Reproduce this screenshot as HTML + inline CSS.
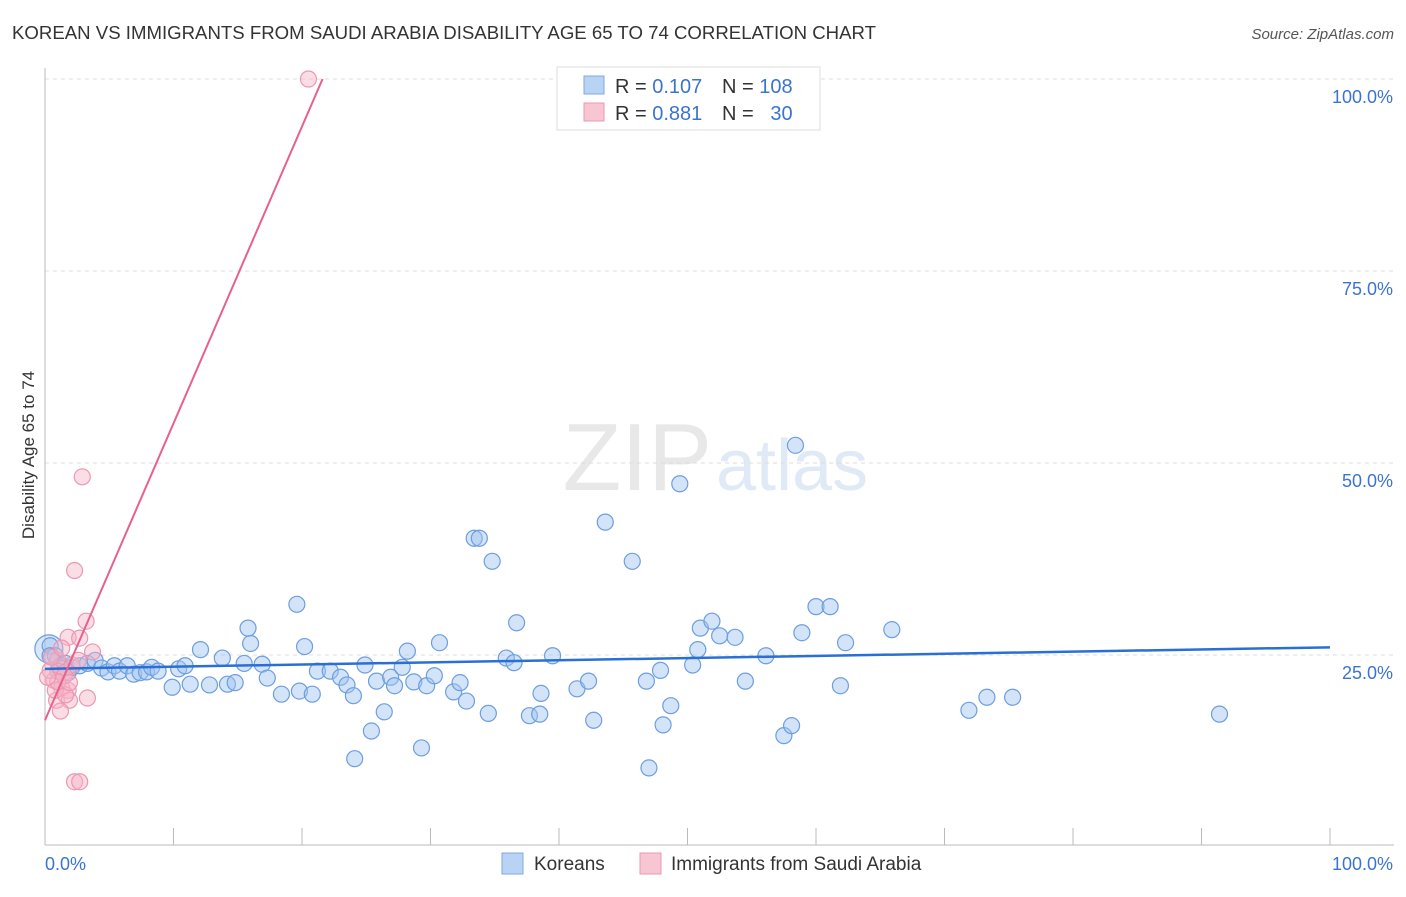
<!DOCTYPE html>
<html><head><meta charset="utf-8"><style>
body{margin:0;background:#fff;font-family:"Liberation Sans",sans-serif;}
svg text{font-family:"Liberation Sans",sans-serif;}
</style></head><body>
<svg id="chart" width="1406" height="892">
<text x="12" y="39" font-size="18.5" fill="#333" textLength="864" lengthAdjust="spacingAndGlyphs">KOREAN VS IMMIGRANTS FROM SAUDI ARABIA DISABILITY AGE 65 TO 74 CORRELATION CHART</text>
<text x="1394" y="39" font-size="15" fill="#555" font-style="italic" text-anchor="end">Source: ZipAtlas.com</text>
<text x="712" y="490" font-size="96" fill="#e8e8e8" text-anchor="end" font-family="Liberation Serif">ZIP</text>
<text x="716" y="490" font-size="72" fill="#e0eaf6">atlas</text>
<g id="grid"></g>
<g id="axes"></g>
<g id="pts"></g>
<g id="lines"></g>
<text transform="translate(34,455) rotate(-90)" font-size="17" fill="#333" text-anchor="middle">Disability Age 65 to 74</text>
<g>
<rect x="557" y="67" width="263" height="63" fill="#fff" stroke="#ddd"/>
<rect x="584" y="76" width="20" height="18" fill="#b9d3f5" stroke="#7fa8e0"/>
<rect x="584" y="103" width="20" height="18" fill="#f8c5d3" stroke="#ec97b0"/>
<text x="615" y="93" font-size="20" fill="#333">R = <tspan fill="#3b74d0">0.107</tspan></text>
<text x="722" y="93" font-size="20" fill="#333">N = <tspan fill="#3b74d0">108</tspan></text>
<text x="615" y="120" font-size="20" fill="#333">R = <tspan fill="#3b74d0">0.881</tspan></text>
<text x="722" y="120" font-size="20" fill="#333">N = <tspan fill="#3b74d0">&#160; 30</tspan></text>
</g>
<g>
<rect x="502" y="853" width="21" height="21" fill="#b9d3f5" stroke="#7fa8e0"/>
<text x="534" y="870" font-size="19" fill="#333">Koreans</text>
<rect x="640" y="853" width="21" height="21" fill="#f8c5d3" stroke="#ec97b0"/>
<text x="671" y="870" font-size="19" fill="#333">Immigrants from Saudi Arabia</text>
</g>
</svg>
<script>
const yTicks=[100,75,50,25];
const yTickLabels=["100.0%","75.0%","50.0%","25.0%"];
const koreanX=[16,15.8,19.6,20.2,12.1,13.8,15.5,16.9,9.9,11.3,12.8,14.2,14.8,17.3,18.4,19.8,20.8,21.2,22.2,23,23.5,24,24.9,25.8,26.4,25.4,24.1,26.9,27.2,27.8,28.2,28.7,29.3,29.7,30.3,30.7,31.8,32.3,32.8,33.4,33.8,34.5,34.8,35.9,36.5,36.7,37.7,38.5,38.6,39.5,41.4,42.3,42.7,43.6,45.7,46.8,47,47.9,48.1,48.7,49.4,50.4,50.8,51,51.9,52.5,53.7,54.5,56.1,57.5,58.1,58.4,58.9,60,61.1,61.9,62.3,65.9,71.9,73.3,75.3,91.4,0.4,0.8,1.2,1.6,2.1,2.7,3.3,3.9,4.4,4.9,5.4,5.8,6.4,6.9,7.4,7.9,8.3,8.8,10.4,10.9,0.4,1,1.8];
const koreanY=[26.5,28.5,31.6,26.1,25.7,24.6,23.9,23.8,20.8,21.2,21.1,21.2,21.4,22,19.9,20.3,19.9,22.9,22.9,22.1,21.1,19.7,23.7,21.6,17.6,15.1,11.5,22.1,21,23.4,25.5,21.5,12.9,21,22.3,26.6,20.2,21.4,19,40.2,40.2,17.4,37.2,24.6,24,29.2,17.1,17.3,20,24.9,20.6,21.6,16.5,42.3,37.2,21.6,10.3,23,15.9,18.4,47.3,23.7,25.7,28.5,29.4,27.5,27.3,21.6,24.9,14.5,15.8,52.3,27.9,31.3,31.3,21,26.6,28.3,17.8,19.5,19.5,17.3,26.2,24.9,23.6,23.9,23.4,23.6,23.9,24.3,23.3,22.8,23.6,22.9,23.6,22.5,22.7,22.8,23.4,22.9,23.2,23.6,24.9,22.9,22.7];
const saudiX=[20.5,2.9,2.3,3.2,1.8,2.7,3.7,1,1.2,1.6,2.1,0.7,1.3,1.8,0.9,1.9,3.3,1.2,2.3,2.7,0.4,0.8,1.5,2.6,0.5,1.6,1,1.9,1.3,0.2];
const saudiY=[100,48.2,36,29.4,27.3,27.2,25.4,24.3,23.3,22.8,23.7,21.7,20.7,20.4,19.1,19.1,19.4,17.7,8.5,8.5,23,20.4,22.3,24.3,24.7,19.8,21.5,21.4,25.9,22.1];
const koreanTrend=[[0,23.2],[100,26]];
const saudiTrend=[[0,16.5],[21.6,100]];
const X0=45,X1=1330,Y0=847,YS=7.68;
const sx=v=>X0+(X1-X0)*v/100, sy=v=>Y0-v*YS;
const NS="http://www.w3.org/2000/svg";
function mk(tag,attrs,parent){const e=document.createElementNS(NS,tag);for(const k in attrs)e.setAttribute(k,attrs[k]);document.getElementById(parent).appendChild(e);return e;}
yTicks.forEach((t,i)=>{
 const g=mk("line",{x1:45,x2:1394,y1:sy(t),y2:sy(t),stroke:"#ddd","stroke-dasharray":"4,4"},"grid");
 
 
 const l=mk("text",{x:1393,y:sy(t)+24,"font-size":18,fill:"#3b74d0","text-anchor":"end"},"grid");
 l.textContent=yTickLabels[i];
 
 
});
const ax=mk("line",{x1:45,x2:45,y1:68,y2:845,stroke:"#bbb"},"axes");


const bx=mk("line",{x1:45,x2:1394,y1:845,y2:845,stroke:"#bbb"},"axes");


for(let i=0;i<=10;i++){const t=mk("line",{x1:sx(i*10),x2:sx(i*10),y1:828,y2:845,stroke:"#bbb"},"axes");
 
 }
const xl0=mk("text",{x:45,y:870,"font-size":18,fill:"#3b74d0"},"axes");xl0.textContent="0.0%";


const xl1=mk("text",{x:1393,y:870,"font-size":18,fill:"#3b74d0","text-anchor":"end"},"axes");xl1.textContent="100.0%";


const big=mk("circle",{cx:sx(0.3),cy:sy(25.8),r:14,fill:"rgba(160,195,240,0.4)",stroke:"#6c9ee0","stroke-width":1.2},"pts");


koreanX.forEach((v,i)=>{const c=mk("circle",{cx:sx(v),cy:sy(koreanY[i]),r:8,fill:"rgba(160,195,240,0.45)",stroke:"#6c9ee0","stroke-width":1.2},"pts");
 
 });
saudiX.forEach((v,i)=>{const c=mk("circle",{cx:sx(v),cy:sy(saudiY[i]),r:8,fill:"rgba(246,180,200,0.45)",stroke:"#ec97b0","stroke-width":1.2},"pts");
 
 });
const kl=mk("line",{x1:sx(koreanTrend[0][0]),y1:sy(koreanTrend[0][1]),x2:sx(koreanTrend[1][0]),y2:sy(koreanTrend[1][1]),stroke:"#2a6fd6","stroke-width":2.5},"lines");


const sl=mk("line",{x1:sx(saudiTrend[0][0]),y1:sy(saudiTrend[0][1]),x2:sx(saudiTrend[1][0]),y2:sy(saudiTrend[1][1]),stroke:"#e8608e","stroke-width":2},"lines");


</script>
</body></html>
